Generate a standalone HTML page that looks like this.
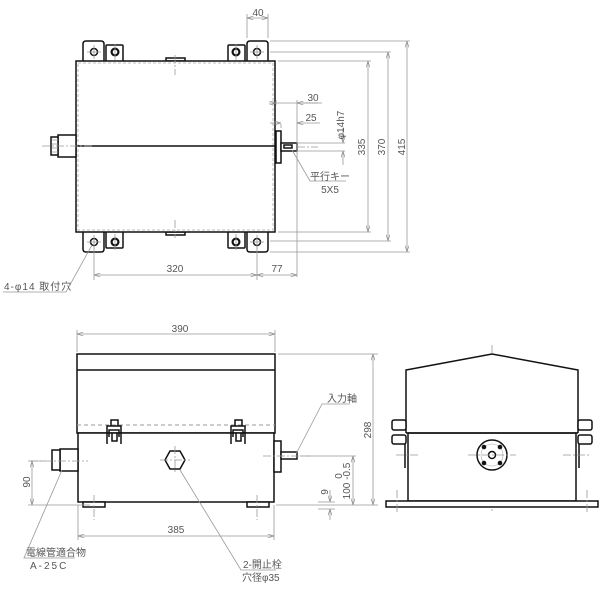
<!DOCTYPE html>
<html><head><meta charset="utf-8"><style>
html,body{margin:0;padding:0;background:#fff;width:600px;height:600px;overflow:hidden}
svg{display:block}
text{font-family:"Liberation Sans","Noto Sans CJK JP",sans-serif;fill:#555;font-size:10px}
.o{stroke:#111;stroke-width:1.5;fill:none}
.w{stroke:#111;stroke-width:1.5;fill:#fff}
.d{stroke:#999;stroke-width:0.8;fill:none}
.c{stroke:#999;stroke-width:0.8;fill:none;stroke-dasharray:8 2 2 2}
.h{stroke:#999;stroke-width:1;fill:none;stroke-dasharray:4 3}
</style></head><body>
<svg width="600" height="600" viewBox="0 0 600 600" xmlns="http://www.w3.org/2000/svg">
<defs>
<marker id="a" viewBox="0 0 10 6" refX="10" refY="3" markerWidth="8" markerHeight="5" orient="auto-start-reverse"><path d="M0,0L10,3L0,6" fill="none" stroke="#888" stroke-width="1"/></marker>
</defs>

<!-- ===== TOP VIEW ===== -->
<!-- feet top -->
<path class="w" d="M83,61V44q0-3,3-3h15q3,0,3,3V61"/>
<path class="w" d="M106,61V46q0-1,1-1h15q1,0,1,1V61"/>
<path class="w" d="M228,61V46q0-1,1-1h15q1,0,1,1V61"/>
<path class="w" d="M247,61V44q0-3,3-3h15q3,0,3,3V61"/>
<!-- feet bottom -->
<path class="w" d="M83,232V249q0,3,3,3h15q3,0,3-3V232"/>
<path class="w" d="M106,232V247q0,1,1,1h15q1,0,1-1V232"/>
<path class="w" d="M228,232V247q0,1,1,1h15q1,0,1-1V232"/>
<path class="w" d="M247,232V249q0,3,3,3h15q3,0,3-3V232"/>
<g class="o" stroke-width="1.2">
<circle cx="94" cy="52" r="3.5"/><circle cx="257" cy="52" r="3.5"/>
<circle cx="94" cy="242" r="3.5"/><circle cx="257" cy="242" r="3.5"/>
</g>
<g fill="#111"><circle cx="115" cy="52" r="4.5"/><circle cx="236" cy="52" r="4.5"/><circle cx="115" cy="242" r="4.5"/><circle cx="236" cy="242" r="4.5"/></g>
<g fill="#fff"><circle cx="115" cy="52" r="2.3"/><circle cx="236" cy="52" r="2.3"/><circle cx="115" cy="242" r="2.3"/><circle cx="236" cy="242" r="2.3"/></g>
<g class="d" stroke="#555"><path d="M94,45V59M87,52H101M257,45V59M250,52H264M94,235V249M87,242H101M257,235V249M250,242H264M115,44V60M236,44V60M115,234V250M236,234V250"/></g>
<!-- tabs -->
<rect class="w" x="166" y="58" width="19" height="3"/>
<rect class="w" x="166" y="232" width="19" height="3"/>
<!-- main box -->
<rect class="w" x="76" y="61" width="199" height="171"/>
<rect x="78" y="63" width="195" height="167" fill="none" stroke="#aaa" stroke-dasharray="3 2" stroke-width="0.8"/>
<line class="o" x1="76" y1="146" x2="275" y2="146"/>
<path class="c" d="M175,55V75M175,220V238"/>
<!-- left connector -->
<rect class="w" x="58" y="135" width="18" height="22"/>
<rect class="w" x="51" y="137" width="7" height="18"/>
<path class="d" d="M52,140H58M52,144H58M52,148H58M52,152H58" stroke="#333"/>
<path class="c" d="M42,146H92"/>
<!-- right flange & shaft -->
<rect class="w" x="276" y="131" width="5" height="32"/>
<rect class="w" x="281" y="143" width="16" height="8"/>
<rect class="o" x="284" y="145" width="8" height="3" stroke-width="1"/>
<path class="c" d="M297,147H318"/>
<!-- dims top view -->
<g class="d">
<path d="M247,38V14M268,38V14"/>
<path d="M247,18H268" marker-start="url(#a)" marker-end="url(#a)"/>
<path d="M270,41H410M270,52H391M278,61H371M278,232H371M270,241H391M270,252H410"/>
<path d="M407,41V252" marker-start="url(#a)" marker-end="url(#a)"/>
<path d="M388,52V241" marker-start="url(#a)" marker-end="url(#a)"/>
<path d="M368,61V232" marker-start="url(#a)" marker-end="url(#a)"/>
<path d="M276,103H297M322,103H301" />
<path d="M269,103H276" marker-end="url(#a)"/>
<path d="M318,103H297" marker-end="url(#a)"/>
<path d="M281,128V124M297,100V277M276,100V105"/>
<path d="M270,123H281" marker-end="url(#a)"/>
<path d="M320,123H297" marker-end="url(#a)"/>
<path d="M297,143H345M297,151H345"/>
<path d="M343,128V143" marker-end="url(#a)"/>
<path d="M343,165V151" marker-end="url(#a)"/>
<path d="M94,246V280M257,246V280"/>
<path d="M94,275H257" marker-start="url(#a)" marker-end="url(#a)"/>
<path d="M257,275H297" marker-start="url(#a)" marker-end="url(#a)"/>
<path d="M292,150L310,181H346"/>
<path d="M3,292H66L92,245"/>
</g>
<text x="258" y="16" text-anchor="middle">40</text>
<text x="313" y="101" text-anchor="middle">30</text>
<text x="311" y="121" text-anchor="middle">25</text>
<text transform="translate(344,125) rotate(-90)" text-anchor="middle" font-size="9">φ14h7</text>
<text transform="translate(365,147) rotate(-90)" text-anchor="middle">335</text>
<text transform="translate(385,147) rotate(-90)" text-anchor="middle">370</text>
<text transform="translate(405,147) rotate(-90)" text-anchor="middle">415</text>
<text x="330" y="180" text-anchor="middle" font-size="8">平行キー</text>
<text x="330" y="193" text-anchor="middle">5X5</text>
<text x="175" y="272" text-anchor="middle">320</text>
<text x="277" y="272" text-anchor="middle">77</text>
<text x="4" y="290" font-size="8.5" letter-spacing="1">4-φ14 取付穴</text>

<!-- ===== FRONT VIEW ===== -->
<g class="d">
<path d="M77,352V330M275,352V330"/>
<path d="M77,334H275" marker-start="url(#a)" marker-end="url(#a)"/>
</g>
<text x="180" y="332" text-anchor="middle">390</text>
<rect class="w" x="77" y="354" width="198" height="79"/>
<line class="o" x1="77" y1="370" x2="275" y2="370"/>
<path class="h" d="M77,425H275"/>
<rect class="w" x="78" y="433" width="196" height="69"/>
<rect class="w" x="83" y="502" width="22" height="5"/>
<rect class="w" x="247" y="502" width="22" height="5"/>
<path class="c" d="M94,495V520M257,495V520"/>
<!-- clamps -->
<g class="o" stroke-width="1.6">
<path d="M107,444V426H121V444M109,437V430H119V437M111,426V420H118V426M112,433V441H117V433"/>
<path d="M231,444V426H245V444M233,437V430H243V437M235,426V420H242V426M236,433V441H241V433"/>
</g>
<!-- hex -->
<path class="o" d="M170,451H180L185,460L180,469H170L165,460Z" stroke-width="1.5"/>
<path class="c" d="M160,460H190M175,446V474"/>
<!-- left connector -->
<rect class="w" x="60" y="449" width="18" height="22"/>
<rect class="w" x="52" y="450" width="8" height="20"/>
<path class="c" d="M30,461H88"/>
<!-- right -->
<rect class="w" x="274" y="441" width="7" height="31"/>
<rect class="w" x="281" y="452" width="16" height="7"/>
<path class="c" d="M263,456H310"/>
<g class="d">
<path d="M278,354H378M276,505H378M300,456H356M28,461H45M28,505H90M318,502H335M318,509H335"/>
<path d="M373,354V505" marker-start="url(#a)" marker-end="url(#a)"/>
<path d="M353,456V505" marker-start="url(#a)" marker-end="url(#a)"/>
<path d="M32,461V505" marker-start="url(#a)" marker-end="url(#a)"/>
<path d="M330,490V502" marker-end="url(#a)"/>
<path d="M330,520V509" marker-end="url(#a)"/>
<path d="M78,505V540M274,505V540"/>
<path d="M78,536H274" marker-start="url(#a)" marker-end="url(#a)"/>
<path d="M296,454L322,404H350"/>
<path d="M62,470L24,558H75"/>
<path d="M180,470L241,570H276"/>
</g>
<text transform="translate(371,430) rotate(-90)" text-anchor="middle">298</text>
<text transform="translate(350,481) rotate(-90)" text-anchor="middle">100 -0.5</text>
<text transform="translate(342,476) rotate(-90)" font-size="7" text-anchor="middle">0</text>
<text transform="translate(328,492) rotate(-90)" text-anchor="middle">9</text>
<text transform="translate(30,482) rotate(-90)" text-anchor="middle">90</text>
<text x="176" y="533" text-anchor="middle">385</text>
<text x="327" y="402" font-size="8">入力軸</text>
<text x="26" y="556" font-size="8">電線管適合物</text>
<text x="30" y="569" letter-spacing="2">A-25C</text>
<text x="243" y="568" font-size="8.5">2-開止栓</text>
<text x="242" y="581" font-size="9">穴径φ35</text>

<!-- ===== SIDE VIEW ===== -->
<path class="c" d="M492,345V512"/>
<path class="w" d="M406,433V370L492,354L578,370V433"/>
<rect class="w" x="408" y="433" width="168" height="68"/>
<rect class="w" x="386" y="501" width="212" height="6"/>
<line class="o" x1="406" y1="433" x2="578" y2="433"/>
<!-- side clamps -->
<g class="o" stroke-width="1.5">
<rect x="392" y="420" width="14" height="10" rx="2" fill="#fff"/>
<rect x="392" y="435" width="14" height="9" rx="2" fill="#fff"/>
<path d="M405,444V468"/>
<rect x="578" y="420" width="14" height="10" rx="2" fill="#fff"/>
<rect x="578" y="435" width="14" height="9" rx="2" fill="#fff"/>
<path d="M579,444V468"/>
</g>
<path class="c" d="M396,455H420M563,455H590M397,490V512M587,490V512"/>
<circle class="o" cx="492" cy="455" r="15" stroke-width="1.3"/>
<circle cx="492" cy="455" r="11" fill="none" stroke="#aaa" stroke-width="0.6"/>
<circle class="o" cx="492" cy="455" r="3.5" stroke-width="1"/>
<g fill="#111"><circle cx="484" cy="447" r="2.3"/><circle cx="500" cy="447" r="2.3"/><circle cx="484" cy="463" r="2.3"/><circle cx="500" cy="463" r="2.3"/></g>
<path class="c" d="M468,455H516"/>
</svg>
</body></html>
